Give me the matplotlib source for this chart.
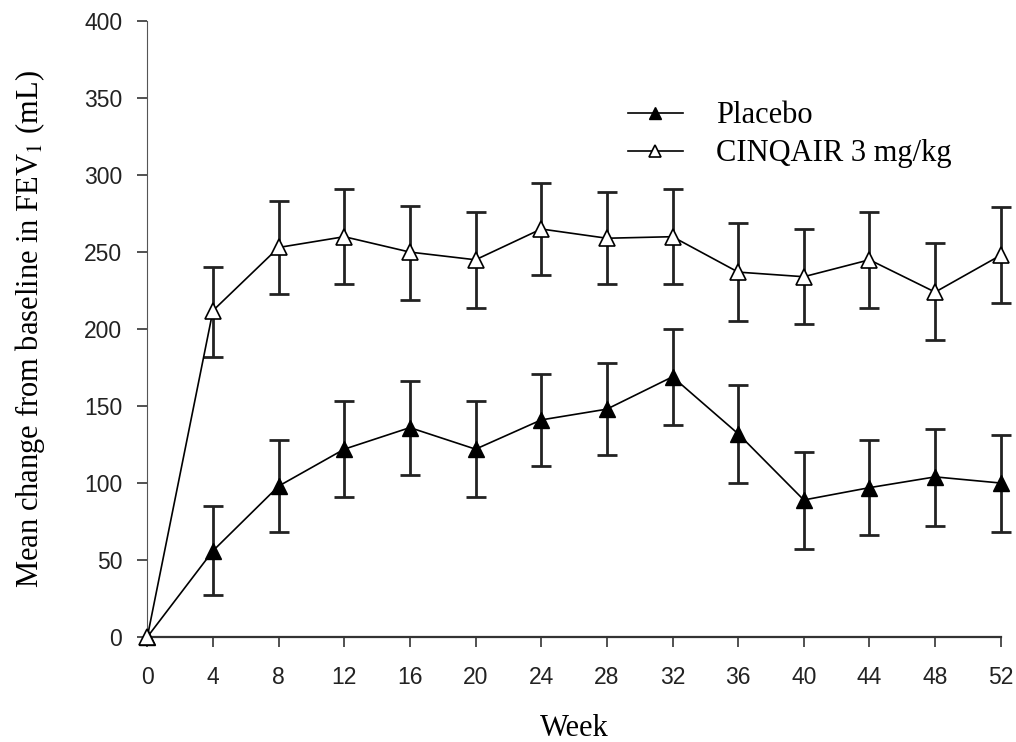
import numpy as np
import matplotlib
matplotlib.use("Agg")
import matplotlib.pyplot as plt

plt.rcParams['mathtext.fontset'] = 'stix'

weeks = [0, 4, 8, 12, 16, 20, 24, 28, 32, 36, 40, 44, 48, 52]

# mean change from baseline (mL)
placebo = [0, 56, 98, 122, 136, 122, 141, 148, 169, 132, 89, 97, 104, 100]
placebo_hi = [0, 85, 128, 153, 166, 153, 171, 178, 200, 164, 120, 128, 135, 131]
placebo_lo = [0, 27, 68, 91, 105, 91, 111, 118, 138, 100, 57, 66, 72, 68]

cinqair = [0, 212, 253, 260, 250, 245, 265, 259, 260, 237, 234, 245, 224, 248]
cinqair_hi = [0, 240, 283, 291, 280, 276, 295, 289, 291, 269, 265, 276, 256, 279]
cinqair_lo = [0, 182, 223, 229, 219, 214, 235, 229, 229, 205, 203, 214, 193, 217]

fig = plt.figure(figsize=(10.16, 7.42), dpi=100)
ax = fig.add_axes([0.145, 0.1415, 0.84, 0.83])

x = np.array(weeks)
for m, hi, lo in [(placebo, placebo_hi, placebo_lo), (cinqair, cinqair_hi, cinqair_lo)]:
    m = np.array(m)
    err = [m - np.array(lo), np.array(hi) - m]
    eb = ax.errorbar(x[1:], m[1:], yerr=[err[0][1:], err[1][1:]], fmt='none',
                     ecolor='#222222', elinewidth=2.0, capsize=7, capthick=2.0, zorder=2)
    for art in eb.get_children():
        art.set_clip_on(False)

ax.plot(x, placebo, color='black', lw=1.2, marker='^', ms=11, mfc='black',
        mec='black', label='Placebo', zorder=3, clip_on=False)
ax.plot(x, cinqair, color='black', lw=1.2, marker='^', ms=11, mfc='white',
        mec='black', mew=1.2, label='CINQAIR 3 mg/kg', zorder=4, clip_on=False)

ax.set_xlim(0, 52)
ax.set_ylim(0, 400)
ax.set_xticks(weeks)
ax.set_yticks(range(0, 401, 50))
for s in ['top', 'right']:
    ax.spines[s].set_visible(False)
ax.spines['left'].set_color('#555555')
ax.spines['bottom'].set_color('#333333')
ax.spines['bottom'].set_linewidth(1.6)
ax.tick_params(direction='out', length=7, width=1.2, labelsize=16.5, colors='#333333')
ax.tick_params(axis='x', pad=14)
ax.tick_params(axis='y', pad=11)
for t in ax.get_xticklabels() + ax.get_yticklabels():
    t.set_fontfamily('Liberation Sans')
    t.set_color('#222222')

ax.set_xlabel('Week', fontfamily='Liberation Serif', fontsize=22, labelpad=18)
ax.set_ylabel('Mean change from baseline in FEV$_1$ (mL)', fontfamily='Liberation Serif',
              fontsize=22, labelpad=27)

ax.legend(loc='upper left', bbox_to_anchor=(0.563, 0.87), frameon=False,
          prop={'family': 'Liberation Serif', 'size': 22}, handlelength=1.8,
          handletextpad=1.1, labelspacing=0.3, borderaxespad=0, borderpad=0,
          markerscale=0.75)

fig.savefig('out.png', dpi=100)
